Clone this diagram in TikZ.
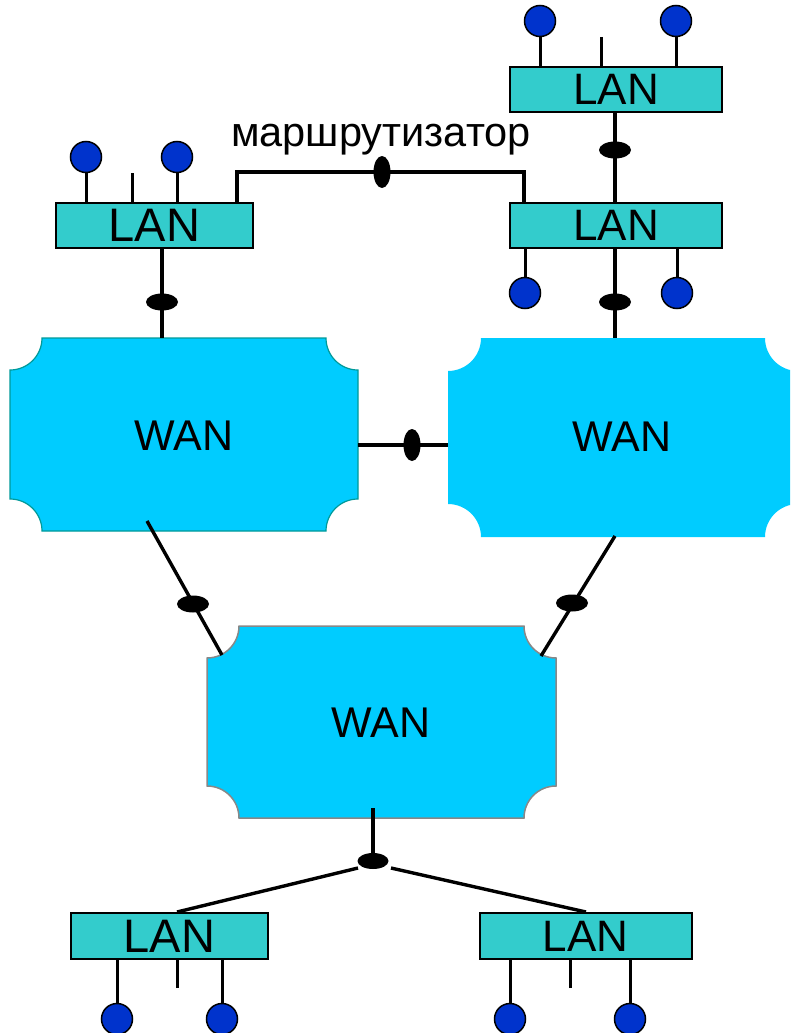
\documentclass[tikz,border=0pt]{standalone}
\usepackage{fontspec}
\setmainfont{Liberation Sans}
\usetikzlibrary{shapes.geometric}
\definecolor{lanfill}{HTML}{33CCCC}
\definecolor{pinfill}{HTML}{0033CC}
\definecolor{wanfill}{HTML}{00CCFF}
\definecolor{wanedgeA}{HTML}{009999}
\definecolor{wanedgeC}{HTML}{888888}
% concave-corner WAN outline: x0 y0 x1 y1 r style
\newcommand\wanshape[6]{%
\path[#6] ({#1+#5},#2) -- ({#3-#5},#2)
 .. controls ({#3-#5},{#2+0.5523*#5}) and ({#3-0.5523*#5},{#2+#5}) .. (#3,{#2+#5})
 -- (#3,{#4-#5})
 .. controls ({#3-0.5523*#5},{#4-#5}) and ({#3-#5},{#4-0.5523*#5}) .. ({#3-#5},#4)
 -- ({#1+#5},#4)
 .. controls ({#1+#5},{#4-0.5523*#5}) and ({#1+0.5523*#5},{#4-#5}) .. (#1,{#4-#5})
 -- (#1,{#2+#5})
 .. controls ({#1+0.5523*#5},{#2+#5}) and ({#1+#5},{#2+0.5523*#5}) .. ({#1+#5},#2) -- cycle;}
\begin{document}
\begin{tikzpicture}[x=1pt,y=-1pt,
 lanbox/.style={draw=black, line width=2pt, fill=lanfill, inner sep=0pt},
 pin/.style={circle, draw=black, line width=1.5pt, fill=pinfill, minimum size=31pt, inner sep=0pt},
 wire/.style={line width=3.4pt, black},
 stub/.style={line width=3pt, black},
 hjoint/.style={ellipse, fill=black, minimum width=32pt, minimum height=17pt, inner sep=0pt},
 vjoint/.style={ellipse, fill=black, minimum width=17pt, minimum height=32pt, inner sep=0pt},
 wantext/.style={font=\fontsize{43}{43}\selectfont, inner sep=0pt},
 bigfont/.style={font=\fontsize{47}{47}\selectfont},
 midfont/.style={font=\fontsize{44}{44}\selectfont},
]
\useasboundingbox (0,0) rectangle (790,1033);
\clip (0,0) rectangle (790,1033);

% ---------- WAN clouds ----------
\wanshape{10}{338}{358}{531}{32}{fill=wanfill, draw=wanedgeA, line width=1.2pt}
\wanshape{448}{338}{798}{537}{33}{fill=wanfill}
\wanshape{207}{626}{556}{818}{32}{fill=wanfill, draw=wanedgeC, line width=1.5pt}
\node[wantext, minimum width=348pt, minimum height=193pt] (W1) at (184,436) {WAN};
\node[wantext, minimum width=350pt, minimum height=199pt] (W2) at (622,437) {WAN};
\node[wantext, minimum width=349pt, minimum height=192pt] (W3) at (381,723) {WAN};

% ---------- LAN boxes ----------
\node[lanbox, bigfont, minimum width=197pt, minimum height=45pt] (L1) at (154.5,225.5) {LAN};
\node[lanbox, midfont, minimum width=212pt, minimum height=45pt] (L2) at (616,89.5) {LAN};
\node[lanbox, midfont, minimum width=212pt, minimum height=45pt] (L3) at (616,225.5) {LAN};
\node[lanbox, bigfont, minimum width=197pt, minimum height=46pt] (L4) at (169.5,936) {LAN};
\node[lanbox, midfont, minimum width=212pt, minimum height=46pt] (L5) at (585.5,936) {LAN};

% ---------- hosts ----------
\node[pin] (P1) at (86,157) {};
\node[pin] (P2) at (177,157) {};
\node[pin] (P3) at (540,21) {};
\node[pin] (P4) at (676,21) {};
\node[pin] (P5) at (525,293) {};
\node[pin] (P6) at (677,293) {};
\node[pin] (P7) at (117,1019) {};
\node[pin] (P8) at (222,1019) {};
\node[pin] (P9) at (510,1019) {};
\node[pin] (P10) at (630,1019) {};

\draw[stub] (P1.south) -- (P1.south |- L1.north);
\draw[stub] (P2.south) -- (P2.south |- L1.north);
\draw[stub] (P3.south) -- (P3.south |- L2.north);
\draw[stub] (P4.south) -- (P4.south |- L2.north);
\draw[stub] (P5.north) -- (P5.north |- L3.south);
\draw[stub] (P6.north) -- (P6.north |- L3.south);
\draw[stub] (P7.north) -- (P7.north |- L4.south);
\draw[stub] (P8.north) -- (P8.north |- L4.south);
\draw[stub] (P9.north) -- (P9.north |- L5.south);
\draw[stub] (P10.north) -- (P10.north |- L5.south);

% free stubs
\coordinate (s1) at (132,173);
\coordinate (s2) at (601,37);
\coordinate (s3) at (177,988);
\coordinate (s4) at (570,988);
\draw[stub] (s1) -- (s1 |- L1.north);
\draw[stub] (s2) -- (s2 |- L2.north);
\draw[stub] (s3) -- (s3 |- L4.south);
\draw[stub] (s4) -- (s4 |- L5.south);

% ---------- router between LANs ----------
\coordinate (r1) at (237,172);
\coordinate (r2) at (524,172);
\draw[wire] (r1 |- L1.north) -- (r1) -- (r2) -- (r2 |- L3.north);
\node[vjoint] (R1) at (382,172) {};
\node[anchor=base, font=\fontsize{41.5}{42}\selectfont, inner sep=0pt] (lbl) at (381,146) {маршрутизатор};

% ---------- LAN / WAN links ----------
\draw[wire] (L1.south -| 162,0) -- (162,338);
\node[hjoint] (J1) at (162,302) {};
\draw[wire] (L2.south -| 615,0) -- (L3.north -| 615,0);
\node[hjoint] (J2) at (615,150) {};
\draw[wire] (L3.south -| 615,0) -- (615,338);
\node[hjoint] (J3) at (615,302) {};

\coordinate (c1) at (358,445);
\coordinate (c2) at (448,445);
\draw[wire] (c1) -- (c2);
\node[vjoint] (R2) at (412,445) {};

\coordinate (d1) at (147,521);
\coordinate (d2) at (222,655);
\draw[wire] (d1) -- (d2);
\node[hjoint] (J4) at (193,604) {};

\coordinate (e1) at (615,536);
\coordinate (e2) at (541,656);
\draw[wire] (e1) -- (e2);
\node[hjoint] (J5) at (572,603) {};

\coordinate (f1) at (373,808);
\node[hjoint, minimum width=31pt, minimum height=16pt] (J6) at (373,861) {};
\draw[wire] (f1) -- (J6.center);
\coordinate (g1) at (358,868);
\coordinate (g2) at (391,868);
\draw[wire] (g1) -- (L4.north -| 177,0);
\draw[wire] (g2) -- (L5.north -| 586,0);
\end{tikzpicture}
\end{document}
